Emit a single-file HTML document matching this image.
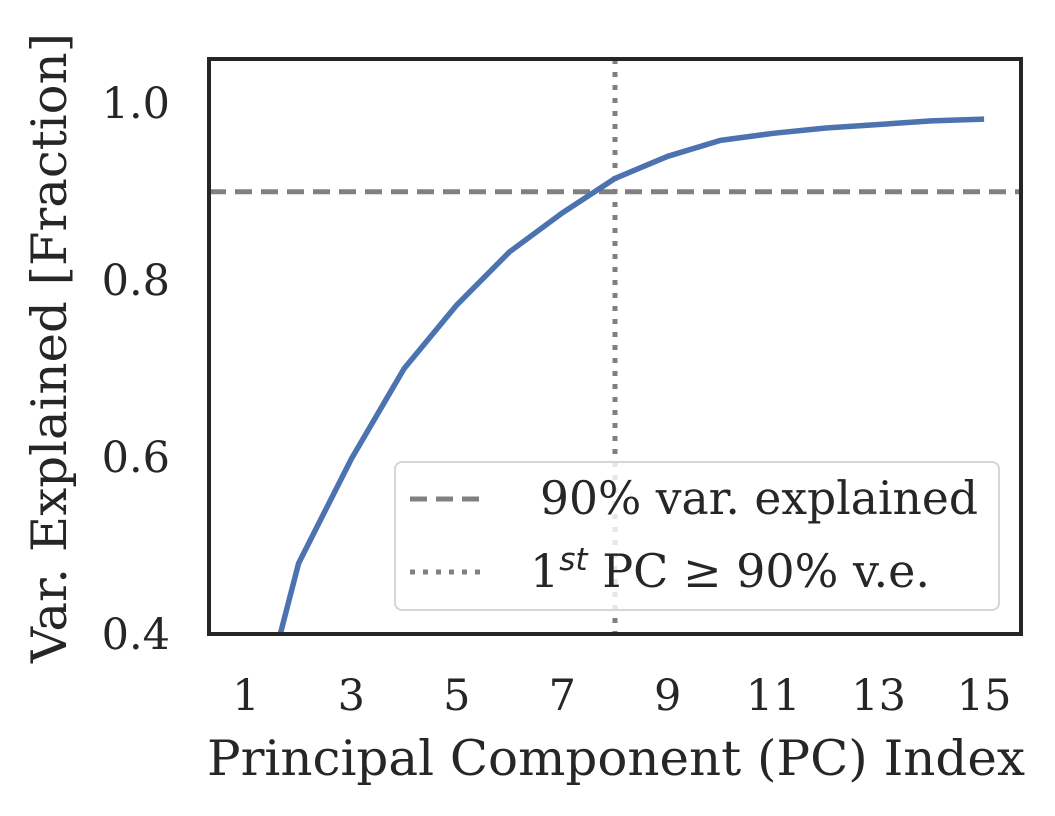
<!DOCTYPE html>
<html><head><meta charset="utf-8"><style>
html,body{margin:0;padding:0;background:#fff;}
svg{display:block;font-family:"DejaVu Serif","Liberation Serif",serif;}
</style></head><body>
<svg id="chart" width="1055" height="816" viewBox="0 0 1055 816" xmlns="http://www.w3.org/2000/svg">
<defs><clipPath id="pc"><rect x="209" y="59" width="812" height="575"/></clipPath></defs>
<rect x="209" y="59" width="812" height="575" fill="#fff"/>
<g id="marks" clip-path="url(#pc)"></g>
<rect x="209" y="59" width="812" height="575" fill="none" stroke="#262626" stroke-width="4"/>
<g id="ticks"></g>
<text x="616" y="775" font-size="49" fill="#262626" text-anchor="middle" textLength="818" lengthAdjust="spacingAndGlyphs">Principal Component (PC) Index</text>
<text transform="translate(66,348) rotate(-90)" font-size="49" fill="#262626" text-anchor="middle" textLength="630" lengthAdjust="spacingAndGlyphs">Var. Explained [Fraction]</text>
<g>
<rect x="395" y="462" width="604" height="148" rx="7" fill="#fff" fill-opacity="0.8" stroke="#d6d6d6" stroke-width="2"/>
<line x1="410" y1="499" x2="485" y2="499" stroke="#808080" stroke-width="5" stroke-dasharray="17,9"/>
<text x="540" y="514" font-size="46" fill="#262626" textLength="438" lengthAdjust="spacingAndGlyphs">90% var. explained</text>
<line x1="410" y1="572" x2="485" y2="572" stroke="#808080" stroke-width="5" stroke-dasharray="5,8"/>
<text x="530" y="587" font-size="46" fill="#262626">1<tspan dy="-17" font-size="31" font-style="italic" font-family="DejaVu Sans,sans-serif">st</tspan><tspan dy="17"> PC ≥ 90% v.e.</tspan></text>
</g>
</svg>
<script>
const pcIndex=[1,2,3,4,5,6,7,8,9,10,11,12,13,14,15];
const cumVar=[0.25,0.48,0.598,0.70,0.772,0.832,0.876,0.915,0.940,0.958,0.966,0.972,0.976,0.980,0.982];
const xTicks=[1,3,5,7,9,11,13,15];
const yTicks=[0.4,0.6,0.8,1.0];
const threshold=0.9;
const firstPC=8;
const NS='http://www.w3.org/2000/svg';
const X0=209,X1=1021,Y0=634,Y1=59,xmin=0.3,xmax=15.7,ymin=0.4,ymax=1.05;
const sx=v=>X0+(v-xmin)/(xmax-xmin)*(X1-X0);
const sy=v=>Y0-(v-ymin)/(ymax-ymin)*(Y0-Y1);
function mk(t,a,p){const e=document.createElementNS(NS,t);for(const k in a)e.setAttribute(k,a[k]);p.appendChild(e);return e;}
const marks=document.getElementById('marks'),ticks=document.getElementById('ticks');
let h=mk('line',{x1:X0,x2:X1,y1:sy(threshold),y2:sy(threshold),stroke:'#808080','stroke-width':5,'stroke-dasharray':'17,9'},marks);


let v=mk('line',{x1:sx(firstPC),x2:sx(firstPC),y1:Y1,y2:Y0,stroke:'#808080','stroke-width':5,'stroke-dasharray':'5,8'},marks);


let p=mk('polyline',{points:pcIndex.map((x,i)=>sx(x)+','+sy(cumVar[i])).join(' '),fill:'none',stroke:'#4c72b0','stroke-width':5.5,'stroke-linejoin':'round'},marks);


xTicks.forEach(t=>{const e=mk('text',{x:sx(t),y:710,'font-size':43,fill:'#262626','text-anchor':'middle'},ticks);e.textContent=t;

});
yTicks.forEach(t=>{const e=mk('text',{x:170,y:sy(t)+15,'font-size':43,fill:'#262626','text-anchor':'end'},ticks);e.textContent=t.toFixed(1);

});
</script>
</body></html>
